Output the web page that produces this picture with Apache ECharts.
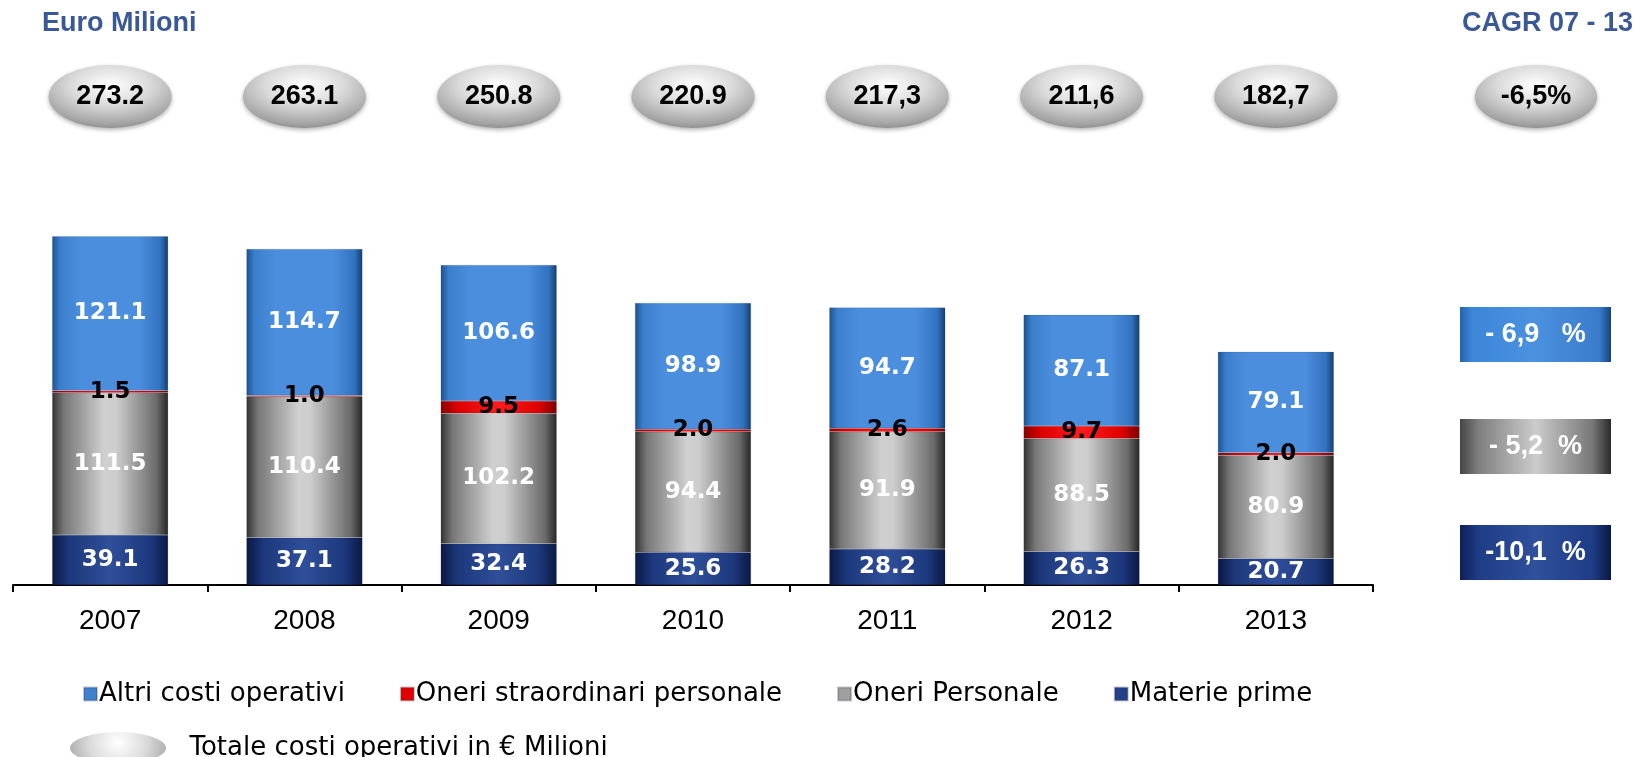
<!DOCTYPE html>
<html>
<head>
<meta charset="utf-8">
<title>Costi operativi</title>
<script src="https://cdn.jsdelivr.net/npm/echarts@6/dist/echarts.min.js"></script>
<style>
    html, body { margin: 0; padding: 0; background: #fff; }
    #container { width: 1635px; height: 757px; }
</style>
</head>
<body>
<div id="container"></div>
<script>
    // dati (Euro Milioni)
    var anni = ['2007', '2008', '2009', '2010', '2011', '2012', '2013'];
    var materiePrime = [39.1, 37.1, 32.4, 25.6, 28.2, 26.3, 20.7];
    var oneriPersonale = [111.5, 110.4, 102.2, 94.4, 91.9, 88.5, 80.9];
    var oneriStraordinari = [1.5, 1.0, 9.5, 2.0, 2.6, 9.7, 2.0];
    var altriCosti = [121.1, 114.7, 106.6, 98.9, 94.7, 87.1, 79.1];
    var totali = [273.2, 263.1, 250.8, 220.9, 217.3, 211.6, 182.7];
    var totaliTesto = ['273.2', '263.1', '250.8', '220.9', '217,3', '211,6', '182,7'];
    var cagrTotale = '-6,5%';
    var cagrVoci = ['- 6,9   %', '- 5,2  %', '-10,1  %'];

    var nomi = ['Altri costi operativi', 'Oneri straordinari personale', 'Oneri Personale', 'Materie prime'];
    var nomeTotale = 'Totale costi operativi in € Milioni';

    function hGrad(stops) {
        return {
            type: 'linear', x: 0, y: 0, x2: 1, y2: 0,
            colorStops: stops.map(function (s) { return { offset: s[0], color: s[1] }; })
        };
    }

    var coloreBlu = hGrad([[0, '#1c5290'], [0.07, '#3b7fcc'], [0.25, '#4b8edd'], [0.75, '#4b8edd'], [0.93, '#3273c0'], [1, '#143f70']]);
    var coloreRosso = hGrad([[0, '#8a0000'], [0.15, '#dd0000'], [0.5, '#ff1c1c'], [0.85, '#dd0000'], [1, '#7a0000']]);
    var coloreGrigio = hGrad([[0, '#333333'], [0.1, '#777777'], [0.45, '#d0d0d0'], [0.55, '#cdcdcd'], [0.9, '#6a6a6a'], [1, '#262626']]);
    var coloreNavy = hGrad([[0, '#0a1844'], [0.15, '#1d387c'], [0.5, '#2f4f9a'], [0.85, '#1d387c'], [1, '#0a1844']]);

    var stopOvale = [
        { offset: 0, color: '#ffffff' },
        { offset: 0.45, color: '#dadada' },
        { offset: 0.85, color: '#a4a4a4' },
        { offset: 1, color: '#858585' }
    ];
    var ovale = { type: 'radial', x: 0.5, y: 0.32, r: 0.72, colorStops: stopOvale };
    // icona legenda: il raggio si misura sul lato corto
    var ovaleLegenda = { type: 'radial', x: 0.5, y: 0.32, r: 2.0, colorStops: stopOvale };

    var etichettaBianca = {
        show: true,
        position: 'inside',
        color: '#fff',
        fontFamily: 'DejaVu Sans',
        fontWeight: 'bold',
        fontSize: 23,
        formatter: function (p) { return p.value.toFixed(1); }
    };

    function serieBar(nome, dati, colore, label) {
        return {
            name: nome,
            type: 'bar',
            stack: 'costi',
            barWidth: 116,
            data: dati,
            itemStyle: { color: colore, borderColor: 'rgba(40,40,60,0.25)', borderWidth: 0.5 },
            label: label,
            emphasis: { disabled: true }
        };
    }

    var testoTitolo = { color: '#3b5896', fontSize: 27, fontWeight: 'bold', fontFamily: 'Liberation Sans' };
    var testoBox = { fill: '#fff', fontSize: 27, fontWeight: 'bold', fontFamily: 'Liberation Sans' };

    var dom = document.getElementById('container');
    var myChart = echarts.init(dom, null, { renderer: 'canvas' });

    var option = {
        animation: false,
        title: [
            { text: 'Euro Milioni', left: 42, top: 10, padding: 0, textStyle: testoTitolo },
            { text: 'CAGR 07 - 13', right: 2, top: 10, padding: 0, textStyle: testoTitolo }
        ],
        legend: [
            {
                left: 78, top: 676,
                itemWidth: 13, itemHeight: 13, itemGap: 55,
                selectedMode: false,
                textStyle: { fontFamily: 'DejaVu Sans', fontSize: 26, color: '#000', padding: [0, 0, 0, -3] },
                data: [
                    { name: nomi[0], icon: 'rect', itemStyle: { color: '#3f80cf' } },
                    { name: nomi[1], icon: 'rect', itemStyle: { color: '#e00000' } },
                    { name: nomi[2], icon: 'rect', itemStyle: { color: '#a0a0a0' } },
                    { name: nomi[3], icon: 'rect', itemStyle: { color: '#24408a' } }
                ]
            },
            {
                left: 65, top: 727,
                itemWidth: 97, itemHeight: 32,
                selectedMode: false,
                textStyle: { fontFamily: 'DejaVu Sans', fontSize: 26, color: '#000', padding: [0, 0, 0, 18] },
                data: [
                    { name: nomeTotale, icon: 'path://M0,16A48,16 0 1,0 96,16A48,16 0 1,0 0,16Z', itemStyle: { color: ovaleLegenda, opacity: 1 } }
                ]
            }
        ],
        grid: [
            { left: 13, right: 262, top: 202, bottom: 172 },
            { left: 13, right: 262, top: 65, height: 63 }
        ],
        xAxis: [
            {
                type: 'category',
                data: anni,
                gridIndex: 0,
                axisLine: { lineStyle: { color: '#000', width: 2 } },
                axisTick: { show: true, length: 7, lineStyle: { color: '#000', width: 2 } },
                axisLabel: { color: '#000', fontSize: 28, fontFamily: 'Liberation Sans', margin: 22 }
            },
            { type: 'category', data: anni, gridIndex: 1, show: false }
        ],
        yAxis: [
            { type: 'value', gridIndex: 0, min: 0, max: 300, show: false, splitLine: { show: false } },
            { type: 'category', data: ['Totale'], gridIndex: 1, show: false }
        ],
        series: [
            serieBar(nomi[3], materiePrime, coloreNavy, etichettaBianca),
            serieBar(nomi[2], oneriPersonale, coloreGrigio, etichettaBianca),
            serieBar(nomi[1], oneriStraordinari, coloreRosso,
                Object.assign({}, etichettaBianca, { color: '#000' })),
            serieBar(nomi[0], altriCosti, coloreBlu, etichettaBianca),
            {
                name: nomeTotale,
                type: 'scatter',
                xAxisIndex: 1,
                yAxisIndex: 1,
                symbol: 'circle',
                symbolSize: [123, 63],
                data: totali.map(function (v, i) { return [i, 0, v]; }),
                itemStyle: { color: ovale, opacity: 1, shadowBlur: 4, shadowColor: 'rgba(0,0,0,0.3)', shadowOffsetY: 2 },
                label: {
                    show: true,
                    position: 'inside',
                    color: '#000',
                    fontFamily: 'Liberation Sans',
                    fontWeight: 'bold',
                    fontSize: 27,
                    formatter: function (p) { return totaliTesto[p.dataIndex]; }
                },
                emphasis: { disabled: true }
            }
        ],
        graphic: [
            {
                type: 'group',
                children: [
                    {
                        type: 'circle',
                        x: 1536, y: 96.5, scaleX: 61, scaleY: 31.5,
                        shape: { cx: 0, cy: 0, r: 1 },
                        style: { fill: ovale, shadowBlur: 4, shadowColor: 'rgba(0,0,0,0.3)', shadowOffsetY: 2 }
                    },
                    {
                        type: 'text',
                        x: 1536, y: 96.5,
                        style: { text: cagrTotale, fill: '#000', fontSize: 27, fontWeight: 'bold', fontFamily: 'Liberation Sans', align: 'center', verticalAlign: 'middle' }
                    }
                ]
            },
            {
                type: 'rect',
                shape: { x: 1460, y: 307, width: 151, height: 55 },
                style: { fill: hGrad([[0, '#2463ae'], [0.08, '#3d86d8'], [0.5, '#4b91df'], [0.92, '#3a7ccc'], [1, '#15457f']]) },
                textContent: { style: Object.assign({ text: cagrVoci[0] }, testoBox) },
                textConfig: { position: 'inside' }
            },
            {
                type: 'rect',
                shape: { x: 1460, y: 419, width: 151, height: 55 },
                style: { fill: hGrad([[0, '#454545'], [0.12, '#7e7e7e'], [0.5, '#cccccc'], [0.88, '#777777'], [1, '#2a2a2a']]) },
                textContent: { style: Object.assign({ text: cagrVoci[1] }, testoBox) },
                textConfig: { position: 'inside' }
            },
            {
                type: 'rect',
                shape: { x: 1460, y: 525, width: 151, height: 55 },
                style: { fill: hGrad([[0, '#0d1f58'], [0.12, '#1f3c86'], [0.5, '#2f509c'], [0.88, '#1f3c86'], [1, '#0a1844']]) },
                textContent: { style: Object.assign({ text: cagrVoci[2] }, testoBox) },
                textConfig: { position: 'inside' }
            }
        ]
    };

    if (option && typeof option === 'object') {
        myChart.setOption(option);
    }
    window.addEventListener('resize', myChart.resize);
</script>
</body>
</html>
